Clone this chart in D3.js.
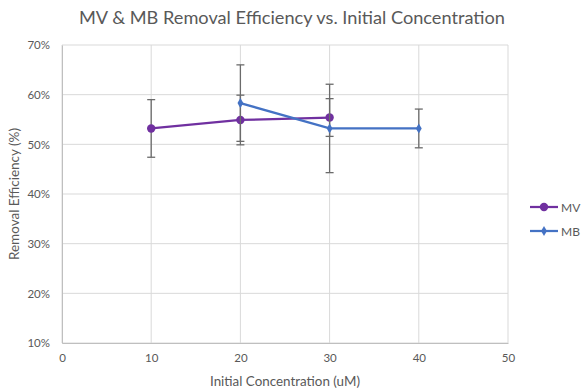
<!DOCTYPE html>
<meta charset="utf-8">
<style>
body { margin: 0; background: #fff; }
text { font-family: Lato, "Open Sans", sans-serif; fill: #595959; }
.grid line { stroke: #d9d9d9; stroke-width: 1px; }
.axis path, .axis line { stroke: #bfbfbf; }
</style>
<body>
<script src="https://cdn.jsdelivr.net/npm/d3@7"></script>
<script>

// data
var mvConc = [10, 20, 30];
var mvEff = [53.2, 54.9, 55.4];
var mvErr = [5.8, 5.0, 3.8];

var mbConc = [20, 30, 40];
var mbEff = [58.3, 53.2, 53.2];
var mbErr = [7.7, 8.9, 3.9];

var xTicks = [0, 10, 20, 30, 40, 50];
var yTicks = [10, 20, 30, 40, 50, 60, 70];

var width = 584, height = 391;
var plot = {left: 62, right: 508, top: 45, bottom: 343};

var x = d3.scaleLinear().domain([0, 50]).range([plot.left, plot.right]);
var y = d3.scaleLinear().domain([10, 70]).range([plot.bottom, plot.top]);

var svg = d3.select("body").append("svg")
    .attr("width", width)
    .attr("height", height);

// gridlines
svg.append("g").attr("class", "grid")
  .selectAll("line").data(yTicks).enter().append("line")
    .attr("x1", plot.left).attr("x2", plot.right)
    .attr("y1", function(d) { return y(d); })
    .attr("y2", function(d) { return y(d); });

svg.append("g").attr("class", "grid")
  .selectAll("line").data(xTicks).enter().append("line")
    .attr("y1", plot.top).attr("y2", plot.bottom)
    .attr("x1", function(d) { return x(d); })
    .attr("x2", function(d) { return x(d); });

// axes
var xAxis = svg.append("g").attr("class", "axis")
    .attr("transform", "translate(0," + plot.bottom + ")")
    .call(d3.axisBottom(x).tickValues(xTicks).tickSize(0).tickPadding(11));
xAxis.selectAll("text").style("font-size", "11.5px");

var yAxis = svg.append("g").attr("class", "axis")
    .attr("transform", "translate(" + plot.left + ",0)")
    .call(d3.axisLeft(y).tickValues(yTicks).tickSize(0).tickPadding(12)
      .tickFormat(function(d) { return d + "%"; }));
yAxis.selectAll("text").style("font-size", "11.5px");

// title and axis titles
svg.append("text")
    .attr("x", 292).attr("y", 24)
    .attr("text-anchor", "middle")
    .style("font-size", "18px")
    .attr("textLength", 426).attr("lengthAdjust", "spacingAndGlyphs")
    .text("MV & MB Removal Efficiency vs. Initial Concentration");

svg.append("text")
    .attr("x", 285).attr("y", 386)
    .attr("text-anchor", "middle")
    .style("font-size", "13px")
    .attr("textLength", 150).attr("lengthAdjust", "spacingAndGlyphs")
    .text("Initial Concentration (uM)");

svg.append("text")
    .attr("transform", "translate(19," + (plot.top + plot.bottom) / 2 + ") rotate(-90)")
    .attr("text-anchor", "middle")
    .style("font-size", "13px")
    .attr("textLength", 132).attr("lengthAdjust", "spacingAndGlyphs")
    .text("Removal Efficiency (%)");

var series = [
  {name: "MV", conc: mvConc, eff: mvEff, err: mvErr, color: "#7030a0", marker: "circle", r: 4.2},
  {name: "MB", conc: mbConc, eff: mbEff, err: mbErr, color: "#4472c4", marker: "diamond", r: 3.5}
];

var line = d3.line()
    .x(function(d) { return x(d.c); })
    .y(function(d) { return y(d.v); });

function drawMarker(g, s, cx, cy) {
  if (s.marker == "circle") {
    g.append("circle").attr("cx", cx).attr("cy", cy).attr("r", s.r)
      .attr("fill", s.color);
  } else {
    g.append("path")
      .attr("d", d3.symbol().type(d3.symbolDiamond).size(s.r * s.r * 2.4)())
      .attr("transform", "translate(" + cx + "," + cy + ")")
      .attr("fill", s.color);
  }
}

series.forEach(function(s) {
  var pts = s.conc.map(function(c, i) { return {c: c, v: s.eff[i], e: s.err[i]}; });
  var g = svg.append("g");

  // error bars
  pts.forEach(function(p) {
    var cx = x(p.c), y0 = y(p.v - p.e), y1 = y(p.v + p.e);
    g.append("line").attr("x1", cx).attr("x2", cx).attr("y1", y0).attr("y2", y1)
      .attr("stroke", "#6b6b6b").attr("stroke-width", 1.3);
    [y0, y1].forEach(function(yy) {
      g.append("line").attr("x1", cx - 4).attr("x2", cx + 4).attr("y1", yy).attr("y2", yy)
        .attr("stroke", "#6b6b6b").attr("stroke-width", 1.3);
    });
  });

  g.append("path")
      .datum(pts)
      .attr("fill", "none")
      .attr("stroke", s.color)
      .attr("stroke-width", 2.25)
      .attr("d", line);

  pts.forEach(function(p) { drawMarker(g, s, x(p.c), y(p.v)); });
});

// legend (nudged left so the labels stay inside the page)
series.forEach(function(s, i) {
  var ly = 207 + i * 24;
  var g = svg.append("g");
  g.append("line").attr("x1", 530).attr("x2", 558).attr("y1", ly).attr("y2", ly)
    .attr("stroke", s.color).attr("stroke-width", 2.25);
  drawMarker(g, s, 544, ly);
  g.append("text").attr("x", 561).attr("y", ly + 4.5)
    .style("font-size", "12px")
    .text(s.name);
});

</script>
</body>
</html>
